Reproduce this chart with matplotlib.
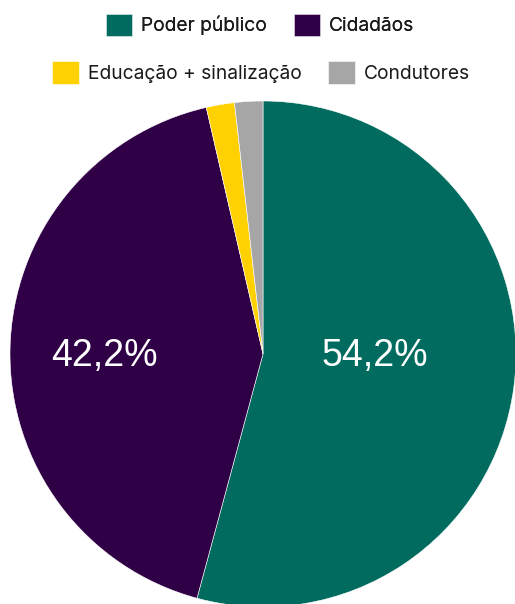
import matplotlib
matplotlib.use('Agg')
import matplotlib.pyplot as plt

plt.rcParams['font.family'] = ['Inter', 'DejaVu Sans']

labels = ['Poder público', 'Cidadãos', 'Educação + sinalização', 'Condutores']
values = [54.2, 42.2, 1.8, 1.8]
colors = ['#006b5e', '#300046', '#ffd100', '#a6a6a6']
shown = ['54,2%', '42,2%', '', '']

W, H = 515, 604
fig = plt.figure(figsize=(W / 100, H / 100), dpi=100)

# pie centre (263, 354) px, radius 253 px
cx, cy, r = 263, 354, 253
ax = fig.add_axes([(cx - r) / W, (H - cy - r) / H, 2 * r / W, 2 * r / H])
wedges, _ = ax.pie(values, colors=colors, startangle=90, counterclock=False,
                   radius=1, wedgeprops=dict(edgecolor='white', linewidth=0.4))
for w in wedges:
    w.set_clip_on(False)
ax.set_xlim(-1, 1)
ax.set_ylim(-1, 1)
ax.set_aspect('auto')
ax.axis('off')

# value labels on the two big slices
lbl_kw = dict(color='white', fontsize=27, family=['Liberation Sans', 'DejaVu Sans'],
              ha='center', va='center')
ax.text((375 - cx) / r, (cy - 356) / r, shown[0], **lbl_kw)
ax.text((104 - cx) / r, (cy - 356) / r, shown[1], **lbl_kw)

leg_kw = dict(frameon=False, ncol=2, loc='center', fontsize=13.8,
              handlelength=1.4, handleheight=1.4, handletextpad=0.45,
              columnspacing=1.4, borderpad=0, labelcolor='#1a1a1a')
leg1 = fig.legend(wedges[:2], labels[:2], bbox_to_anchor=(260 / W, 1 - 25 / H), **leg_kw)
fig.legend(wedges[2:], labels[2:], bbox_to_anchor=(261 / W, 1 - 72.5 / H), **leg_kw)
fig.add_artist(leg1)

fig.savefig('out.png', dpi=100)
